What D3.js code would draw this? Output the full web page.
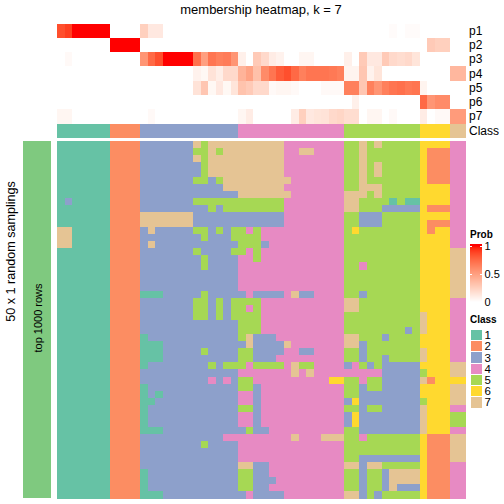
<!DOCTYPE html>
<html><head><meta charset="utf-8">
<script src="https://cdn.jsdelivr.net/npm/d3@7/dist/d3.min.js"></script>
<style>html,body{margin:0;padding:0;background:#fff}svg{display:block}text{font-family:"Liberation Sans",Arial,sans-serif;fill:#000}</style>
</head><body><div id="chart"></div>
<script>
const classColors = ["#66C2A5","#FC8D62","#8DA0CB","#E78AC3","#A6D854","#FFD92F","#E5C494"];
const classNames = ["1","2","3","4","5","6","7"];
const probNames = ["p1","p2","p3","p4","p5","p6","p7"];
const classRow = "111111122223333333333333444444444444445555555555666677";
const p1 = [.85,.9,1,1,1,1,1, 0,0,0,0, .25,.12,.12,0,0,0,0,0,0,0,0,0,0, 0,0,0,0,0,0,0,0,0,0,0,0,0,0, 0,0,0,0,0,0,.02,0,.02,.02, 0,0,0,0, 0,0];
const p2 = [0,0,0,0,0,0,0, 1,1,1,1, 0,0,0,0,0,0,0,0,0,0,0,0,0, 0,0,0,0,0,0,0,0,0,0,0,0,0,0, 0,0,0,0,0,0,0,0,0,0, 0,.28,.25,.25, 0,0];
const p3 = [0,.03,0,0,0,0,0, 0,0,0,0, .55,.75,.85,1,1,1,1,.72,.5,.7,.65,.67,.55, .08,0,.28,.2,.1,.07,0,0,.05,.05,0,0,0,0, .08,0,.28,.12,.12,.28,.2,.18,.2,.14, 0,0,0,0, 0,0];
const p4 = [0,0,0,0,0,0,0, 0,0,0,0, 0,0,0,0,0,0,0,.07,.04,.15,.09,.2,.2, .4,.48,.33,.6,.7,.8,.85,.75,.65,.7,.7,.7,.68,.65, .06,.06,.3,.07,.14,0,0,0,0,0, 0,0,0,0, .38,.38];
const p5 = [0,0,0,0,0,0,0, 0,0,0,0, 0,0,0,0,0,0,0,.15,.3,.04,.12,.04,.14, .32,.28,.2,.2,.03,.05,.05,.03,0,0,0,.03,.03,.03, .65,.65,.3,.65,.55,.65,.7,.72,.68,.7, .06,0,0,0, 0,0];
const p6 = [0,0,0,0,0,0,0, 0,0,0,0, 0,0,0,0,0,0,0,0,0,0,0,0,0, 0,0,0,0,0,0,0,0,0,0,0,0,0,0, 0,.08,0,0,0,0,0,0,0,0, .75,.55,.6,.6, 0,0];
const p7 = [.05,.05,0,0,0,0,0, 0,0,0,0, 0,.03,0,0,0,0,0,0,0,0,0,0,0, .05,.1,0,0,0,0,0,.1,.25,.12,.14,.15,.2,.22, .18,.18,0,.05,.05,0,.03,0,0,0, .1,0,.03,.03, .52,.52];
const probRows = [p1,p2,p3,p4,p5,p6,p7];
const samples = [
"11111112222"+"3333333757777"+"77777744444444"+"5575755555"+"6666"+"44",
"11111112222"+"3333333557577"+"77777744774444"+"5575555555"+"6222"+"44",
"11111112222"+"3333333757777"+"77777744444444"+"5575555555"+"6222"+"44",
"11111112222"+"3333333357777"+"77777744444444"+"5575755555"+"6222"+"44",
"11111112222"+"3333333357777"+"77777744444444"+"5575755555"+"6222"+"44",
"11111112222"+"3333333553577"+"77777774444444"+"5575555555"+"6222"+"44",
"11111112222"+"3333333333377"+"77777744444444"+"5577755555"+"6666"+"44",
"11111112222"+"3333333333333"+"77777774444444"+"7775755555"+"6666"+"44",
"13111112222"+"3333333555555"+"55555544444444"+"7755551511"+"6666"+"44",
"11111112222"+"3333333335355"+"55555544444444"+"7755533333"+"6222"+"44",
"11111112222"+"7777777333333"+"33333344444444"+"5533355555"+"6666"+"44",
"11111112222"+"7777777333333"+"33333344444444"+"5533355555"+"6222"+"44",
"77111112222"+"3733333553535"+"54544444444444"+"5655555555"+"6266"+"44",
"77111112222"+"3333333353335"+"55544444444444"+"5555555555"+"6666"+"44",
"77111112222"+"3733333333333"+"55534444444444"+"5555555555"+"6666"+"44",
"11111112222"+"3333333533335"+"54544444444444"+"5555555555"+"6666"+"77",
"11111112222"+"3333333353333"+"44544444444444"+"5555555555"+"6666"+"77",
"11111112222"+"3333333353333"+"44444444444444"+"5545555555"+"6666"+"77",
"11111112222"+"3333333333333"+"44444444444444"+"5555555555"+"6666"+"77",
"11111112222"+"3333333333333"+"44444444444444"+"5555555555"+"6666"+"77",
"11111112222"+"3333333333333"+"44444444444444"+"5555555555"+"6666"+"77",
"11111112222"+"1113333353333"+"34333347334444"+"5535555555"+"6666"+"77",
"11111112222"+"3333333553535"+"55544444444444"+"7755555555"+"6666"+"44",
"11111112222"+"3333333553535"+"54544444444444"+"7755555555"+"6666"+"44",
"11111112222"+"3333333553535"+"55544444444444"+"5555555555"+"7666"+"44",
"11111112222"+"3333333333333"+"55544444444444"+"5555555555"+"7666"+"44",
"11111112222"+"3333333333333"+"55544444444444"+"5555555535"+"7666"+"44",
"11111112222"+"1333333333333"+"57333444444444"+"7755535555"+"6666"+"44",
"11111112222"+"1113333333333"+"37333374444444"+"7735555555"+"6666"+"44",
"11111112222"+"1113333353333"+"55333344334444"+"5535555555"+"7666"+"44",
"11111112222"+"1113333333333"+"55333444444444"+"5535535555"+"7666"+"44",
"11111112222"+"1333333335355"+"54555547554444"+"3453533333"+"6666"+"77",
"11111112222"+"3333333333333"+"44444447474444"+"4444433333"+"5666"+"77",
"11111112222"+"3333333334343"+"55444444444466"+"5545533333"+"7266"+"66",
"11111112222"+"1333333333333"+"55344444444444"+"5535533333"+"6666"+"77",
"11111112222"+"1313333333333"+"44344444444444"+"5533333333"+"6666"+"77",
"11111112222"+"1133333333333"+"44344444444444"+"3633333333"+"5666"+"77",
"11111112222"+"1333333333333"+"55344444444444"+"5535533333"+"7666"+"44",
"11111112222"+"1333333333333"+"44344444444444"+"3633333333"+"7666"+"55",
"11111112222"+"1333333333333"+"44344444444444"+"3633333333"+"7666"+"55",
"11111112222"+"1113333333333"+"35334444444444"+"5533333333"+"7666"+"44",
"11111112222"+"3333333333344"+"44444447444777"+"5545555555"+"6222"+"77",
"11111112222"+"3333333353333"+"44444444444444"+"5555555555"+"6222"+"77",
"11111112222"+"3333333333333"+"44444444444444"+"5555555555"+"6222"+"77",
"11111112222"+"3333333333333"+"44444444444444"+"5533333333"+"6222"+"77",
"11111112222"+"3333333333333"+"77334444444444"+"7737755555"+"6222"+"44",
"11111112222"+"1333333333333"+"55334444444444"+"5535537777"+"6222"+"44",
"11111112222"+"1333333333333"+"55333444444444"+"5535537777"+"6222"+"44",
"11111112222"+"1333333333333"+"55334444444444"+"5535537333"+"6222"+"44",
"11111112222"+"1113333333333"+"34333344444444"+"7735355555"+"6222"+"44"
];
const titleText = "membership heatmap, k = 7";
const leftText = "50 x 1 random samplings";
const sideText = "top 1000 rows";
const probTicks = [0, 0.5, 1];

const svg = d3.select("#chart").append("svg").attr("width",504).attr("height",504).attr("shape-rendering","crispEdges");
const cols = d3.range(classRow.length);
const x = d3.scaleBand().domain(cols).range([57,465]);
const yProb = d3.scaleBand().domain(probNames).range([24,123]);
const yMain = d3.scaleBand().domain(d3.range(samples.length)).range([141,498]);
const prob = d3.scaleLinear().domain([0,1]).range(["#FFFFFF","#FF0000"]).interpolate(d3.interpolateLab);
const cls = d3.scaleOrdinal().domain(classNames).range(classColors);
const bw = x.bandwidth(), rh = yMain.bandwidth(), ph = yProb.bandwidth();

svg.append("text").attr("x",261).attr("y",14).attr("text-anchor","middle").attr("font-size",13).text(titleText);

probRows.forEach((vals,i)=>{
  svg.append("g").selectAll("rect").data(vals).join("rect")
    .attr("x",(d,j)=>x(j)).attr("y",yProb(probNames[i])).attr("width",bw+.5).attr("height",ph+.5).attr("fill",d=>prob(d));
  svg.append("text").attr("x",469).attr("y",yProb(probNames[i])+ph/2+4).attr("font-size",12).text(probNames[i]);
});
svg.append("g").selectAll("rect").data(classRow.split("")).join("rect")
  .attr("x",(d,j)=>x(j)).attr("y",124).attr("width",bw+.5).attr("height",14).attr("fill",d=>cls(d));
svg.append("text").attr("x",469).attr("y",135).attr("font-size",12).text("Class");

samples.forEach((row,r)=>{
  svg.append("g").selectAll("rect").data(row.split("")).join("rect")
    .attr("x",(d,j)=>x(j)).attr("y",yMain(r)).attr("width",bw+.5).attr("height",rh+.5).attr("fill",d=>cls(d));
});

svg.append("rect").attr("x",23).attr("y",141).attr("width",28).attr("height",357).attr("fill","#7FC97F");
svg.append("text").attr("transform","translate(41.5,318) rotate(-90)").attr("text-anchor","middle").attr("font-size",11).text(sideText);
svg.append("text").attr("transform","translate(15,251.5) rotate(-90)").attr("text-anchor","middle").attr("font-size",12.6).text(leftText);

// Probability legend
svg.append("text").attr("x",470).attr("y",238).attr("font-size",10).attr("font-weight","bold").text("Prob");
const yLeg = d3.scaleLinear().domain([0,1]).range([302,246]);
const stops = d3.range(244,304);
svg.append("g").selectAll("rect").data(stops).join("rect")
  .attr("x",470).attr("y",d=>d).attr("width",12).attr("height",1.5)
  .attr("fill",d=>prob(Math.max(0,Math.min(1,yLeg.invert(d+.5)))));
probTicks.forEach(t=>{
  const y=yLeg(t);
  svg.append("line").attr("x1",470).attr("x2",472.4).attr("y1",y).attr("y2",y).attr("stroke","#fff").attr("stroke-width",1);
  svg.append("line").attr("x1",479.6).attr("x2",482).attr("y1",y).attr("y2",y).attr("stroke","#fff").attr("stroke-width",1);
  svg.append("text").attr("x",484.5).attr("y",y+4).attr("font-size",11).text(t);
});

// Class legend
svg.append("text").attr("x",470).attr("y",323).attr("font-size",10).attr("font-weight","bold").text("Class");
const yCls = d3.scaleBand().domain(classNames).range([329.5,408]);
classNames.forEach(n=>{
  svg.append("rect").attr("x",470.5).attr("y",yCls(n)+.5).attr("width",11).attr("height",yCls.bandwidth()-1).attr("fill",cls(n));
  svg.append("text").attr("x",484.5).attr("y",yCls(n)+yCls.bandwidth()/2+4).attr("font-size",11.5).text(n);
});
</script></body></html>
